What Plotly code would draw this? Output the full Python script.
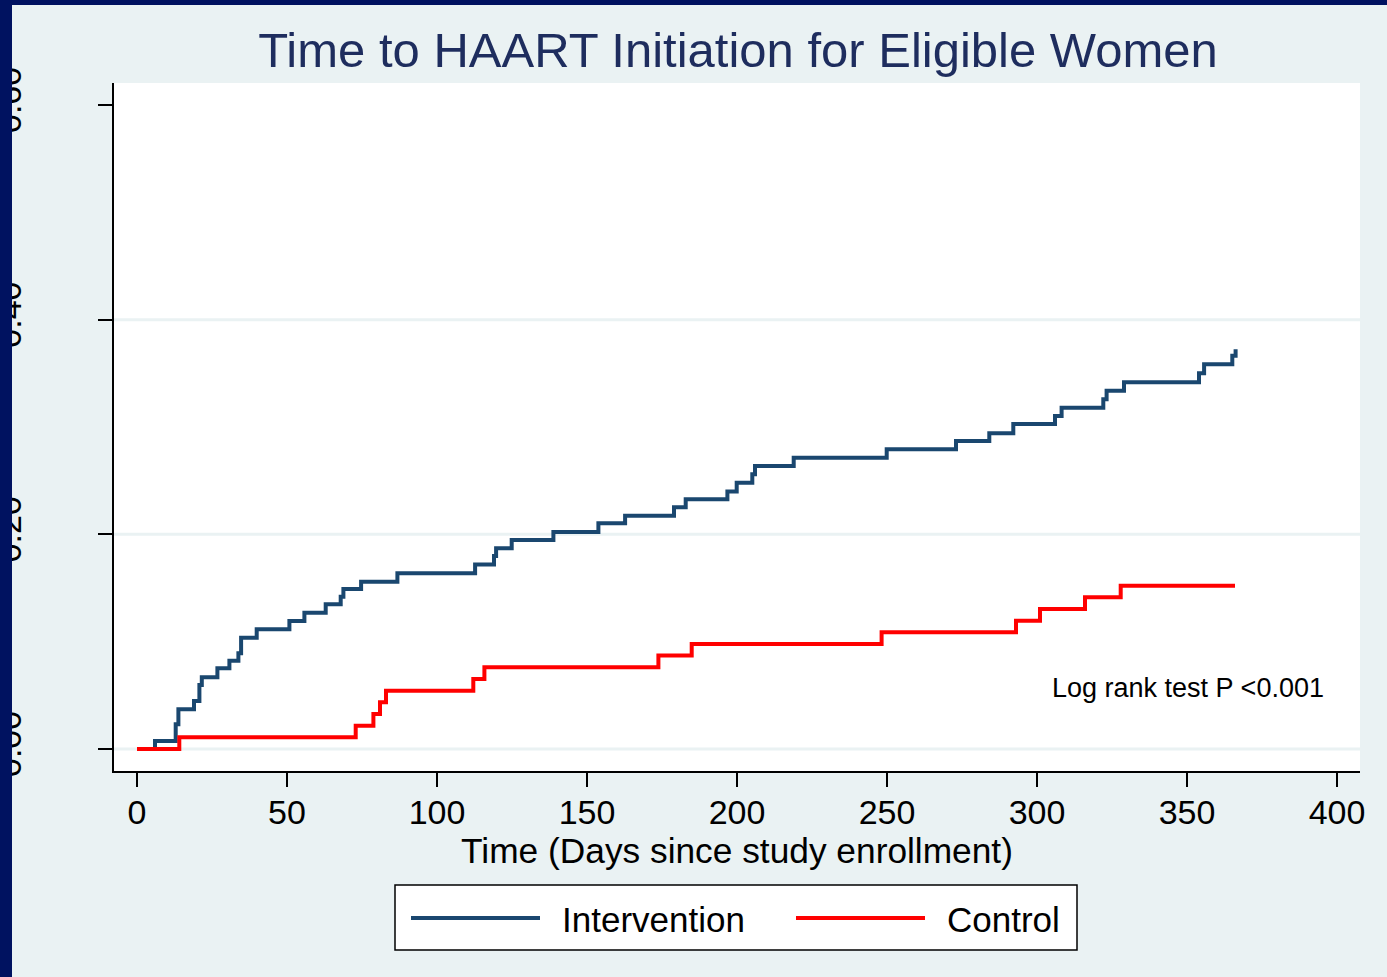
import plotly.graph_objects as go

# ---------------- data ----------------
int_days = [0, 6.0, 12.9, 13.8, 19.0, 20.8, 21.6, 26.8, 30.8, 33.8, 34.7, 39.9,
            50.8, 55.8, 62.9, 67.9, 68.8, 74.7, 86.8, 112.7, 119.0, 119.7, 124.9,
            138.8, 153.8, 162.7, 179.0, 182.9, 196.8, 199.9, 205.1, 206.0, 218.9,
            249.9, 273.0, 284.1, 292.1, 306.0, 308.2, 322.1, 323.2, 329.0, 354.0,
            355.7, 365.1, 366.2]
int_fail = [0, 0.0075, 0.023, 0.037, 0.0447, 0.0596, 0.0668, 0.0752, 0.0823, 0.0892,
            0.1037, 0.1115, 0.1193, 0.127, 0.1348, 0.1419, 0.149, 0.1559, 0.1637,
            0.172, 0.1798, 0.187, 0.1947, 0.2022, 0.2103, 0.2174, 0.2252, 0.2326,
            0.2398, 0.2481, 0.2559, 0.2637, 0.2714, 0.2792, 0.287, 0.2941, 0.3028,
            0.3103, 0.318, 0.3258, 0.3338, 0.3417, 0.350, 0.3584, 0.3664, 0.3724]

ctl_days = [0, 14.1, 72.9, 78.8, 81.0, 83.0, 112.1, 115.8, 173.8, 184.9, 248.2,
            293.0, 301.0, 316.0, 327.9, 366.0]
ctl_fail = [0, 0.0109, 0.0217, 0.0326, 0.0435, 0.0543, 0.0652, 0.0761, 0.087,
            0.0978, 0.1087, 0.1196, 0.1304, 0.1413, 0.1522, 0.1522]

series_names = ["Intervention", "Control"]
x_ticks = [0, 50, 100, 150, 200, 250, 300, 350, 400]
y_ticks = [0.0, 0.2, 0.4, 0.6]
y_ticktext = ["0.00", "0.20", "0.40", "0.60"]
grid_vals = [0.0, 0.2, 0.4]

title_text = "Time to HAART Initiation for Eligible Women"
x_title = "Time (Days since study enrollment)"
note_text = "Log rank test P <0.001"

# ---------------- style ----------------
W, H = 1387, 977
ML, MR, MT, MB = 114, 27, 83, 206
PW, PH = W - ML - MR, H - MT - MB
NAVY = "#1A476F"
RED = "#FF0000"
BG = "#EAF2F3"
BORDER = "#001260"
TITLE_C = "#1E2D5E"
FONT = "Liberation Sans, Arial, sans-serif"
LW = 4


def px_x(px):
    return (px - ML) / PW


def px_y(py):
    return (H - MB - py) / PH


fig = go.Figure()
fig.add_trace(go.Scatter(x=int_days, y=int_fail, mode="lines", name=series_names[0],
                         line=dict(shape="hv", color=NAVY, width=LW), showlegend=False))
fig.add_trace(go.Scatter(x=ctl_days, y=ctl_fail, mode="lines", name=series_names[1],
                         line=dict(shape="hv", color=RED, width=LW), showlegend=False))

shapes = []
# horizontal grid lines
for g in grid_vals:
    shapes.append(dict(type="line", xref="x domain", yref="y", x0=0, x1=1, y0=g, y1=g,
                       line=dict(color=BG, width=3), layer="below"))

# legend box (drawn manually to match sample length)
shapes.append(dict(type="rect", xref="paper", yref="paper",
                   x0=px_x(395), x1=px_x(1077), y0=px_y(885), y1=px_y(950),
                   line=dict(color="black", width=1.5), fillcolor="white", layer="above"))
shapes.append(dict(type="line", xref="paper", yref="paper",
                   x0=px_x(411), x1=px_x(540), y0=px_y(918), y1=px_y(918),
                   line=dict(color=NAVY, width=LW), layer="above"))
shapes.append(dict(type="line", xref="paper", yref="paper",
                   x0=px_x(796), x1=px_x(925), y0=px_y(918), y1=px_y(918),
                   line=dict(color=RED, width=LW), layer="above"))
# dark frame strips on left and top
shapes.append(dict(type="rect", xref="paper", yref="paper",
                   x0=px_x(-2), x1=px_x(12), y0=px_y(-2), y1=px_y(H + 2),
                   line=dict(width=0), fillcolor=BORDER, layer="above"))
shapes.append(dict(type="rect", xref="paper", yref="paper",
                   x0=px_x(-2), x1=px_x(W + 2), y0=px_y(-2), y1=px_y(5),
                   line=dict(width=0), fillcolor=BORDER, layer="above"))

annotations = [
    dict(text=note_text, xref="x", yref="y", x=396.3, y=0.0568, xanchor="right",
         yanchor="middle", showarrow=False, font=dict(size=27, color="black", family=FONT)),
    dict(text=series_names[0], xref="paper", yref="paper", x=px_x(560), y=px_y(919),
         xanchor="left", yanchor="middle", showarrow=False,
         font=dict(size=35, color="black", family=FONT)),
    dict(text=series_names[1], xref="paper", yref="paper", x=px_x(945), y=px_y(919),
         xanchor="left", yanchor="middle", showarrow=False,
         font=dict(size=35, color="black", family=FONT)),
]

fig.update_layout(
    width=W, height=H,
    margin=dict(l=ML, r=MR, t=MT, b=MB, pad=0),
    paper_bgcolor=BG, plot_bgcolor="white",
    font=dict(family=FONT, color="black"),
    title=dict(text=title_text, x=738 / W, xref="container", xanchor="center",
               y=1 - 50 / H, yref="container", yanchor="middle",
               font=dict(size=49, color=TITLE_C, family=FONT)),
    shapes=shapes, annotations=annotations,
    showlegend=False,
)

fig.update_xaxes(range=[-7.667, 407.667], tickvals=x_ticks, ticks="outside", ticklen=14,
                 tickwidth=1.5, tickcolor="black", showline=True, linecolor="black",
                 linewidth=2, showgrid=False, zeroline=False, automargin=False,
                 tickfont=dict(size=34, color="black", family=FONT),
                 ticklabelstandoff=-4,
                 title=dict(text=x_title, font=dict(size=35.3, color="black", family=FONT),
                            standoff=0))
fig.update_yaxes(range=[-0.0205, 0.6205], tickvals=y_ticks, ticktext=y_ticktext,
                 tickangle=-90, ticks="outside", ticklen=14, tickwidth=1.5,
                 tickcolor="black", showline=True, linecolor="black", linewidth=2,
                 showgrid=False, zeroline=False, automargin=False,
                 tickfont=dict(size=34, color="black", family=FONT),
                 ticklabelstandoff=63)

fig.write_html("out.html", config={"displayModeBar": False},
               post_script="document.body.style.margin='0';")
